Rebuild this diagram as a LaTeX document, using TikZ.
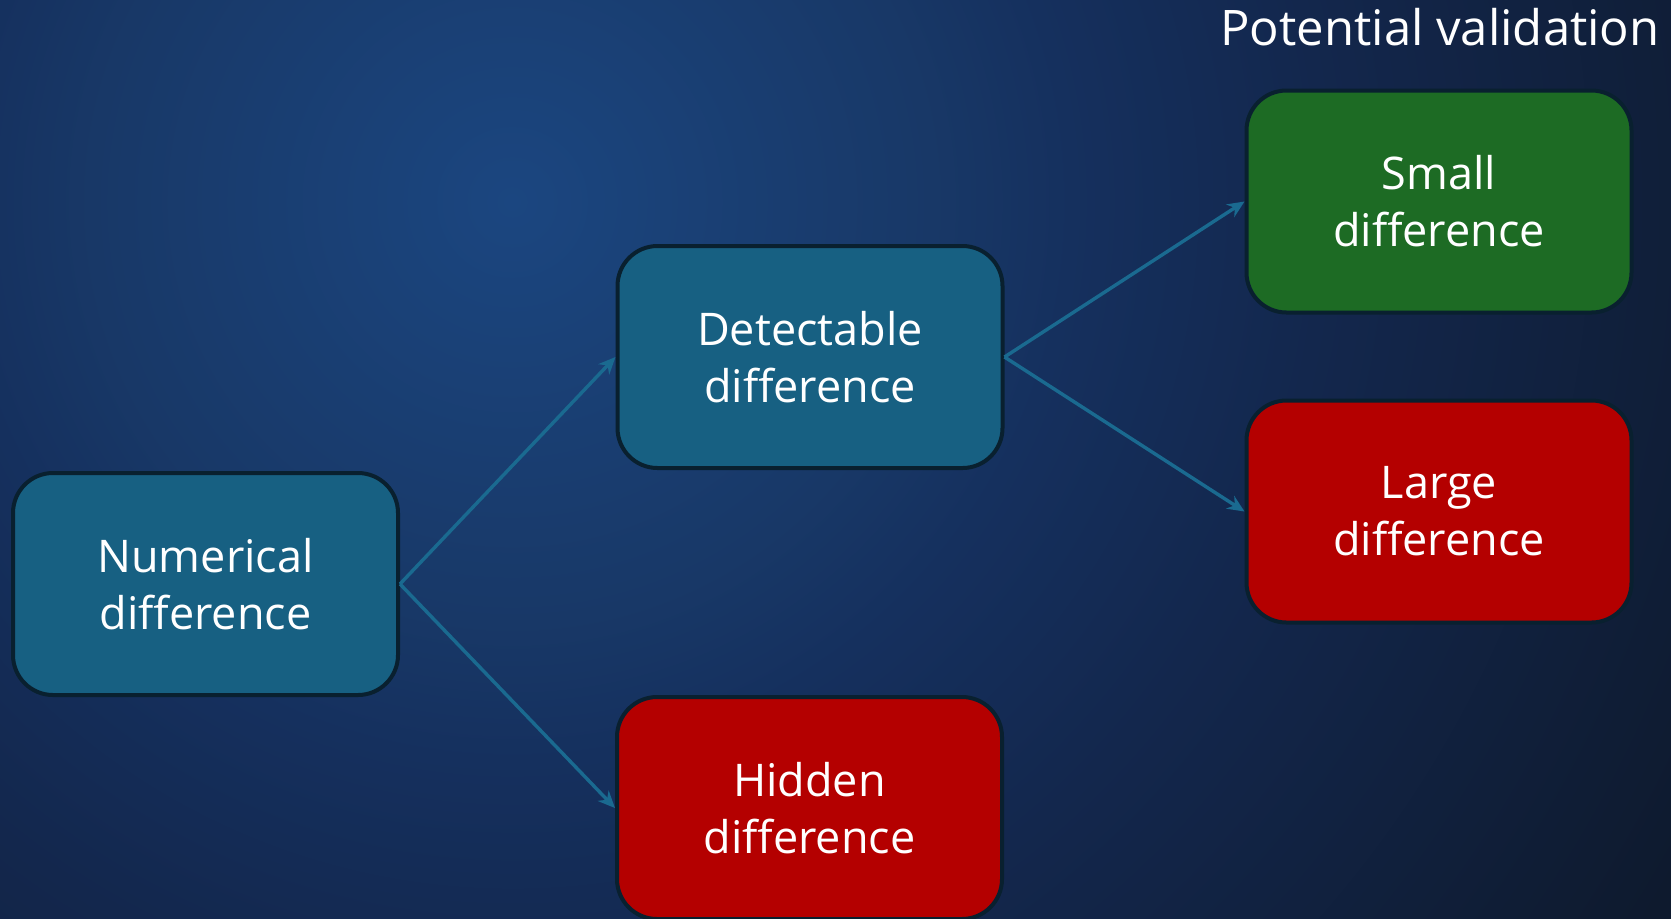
\documentclass[tikz,border=0pt]{standalone}
\usepackage{fontspec}
\setmainfont{Open Sans}
\usetikzlibrary{positioning, arrows.meta}

\definecolor{bgcore}{HTML}{1B4680}
\definecolor{bgnear}{HTML}{183867}
\definecolor{bgmid}{HTML}{15305E}
\definecolor{bgfar}{HTML}{13274D}
\definecolor{bgdark}{HTML}{0E1A2E}
\definecolor{boxteal}{HTML}{176082}
\definecolor{boxgreen}{HTML}{1D6B24}
\definecolor{boxred}{HTML}{B40000}
\definecolor{boxedge}{HTML}{09202F}
\definecolor{arrowblue}{HTML}{1A6A90}

% the middle 50bp square of a shading is fitted to the path, so 25bp = radius
\pgfdeclareradialshading{bgglow}{\pgfpoint{0bp}{0bp}}{color(0bp)=(bgcore); color(7.5bp)=(bgnear); color(10bp)=(bgmid); color(14.5bp)=(bgfar); color(24bp)=(bgdark); color(50bp)=(bgdark)}

\tikzset{
  diffbox/.style={draw=boxedge, line width=2pt, rounded corners=20pt,
    minimum width=192.5pt, minimum height=111pt, align=center, text=white,
    font=\fontsize{22.5}{28.5}\selectfont},
  flow/.style={-{Stealth[length=8.5pt,width=7.5pt]}, draw=arrowblue, line width=1.7pt}
}

\begin{document}
\begin{tikzpicture}[x=0.5pt,y=-0.5pt]
\useasboundingbox (0,0) rectangle (1671,918);
\begin{scope}
\clip (0,0) rectangle (1671,918);
\fill[bgdark] (0,0) rectangle (1671,918);
\shade[shading=bgglow] (512,202) circle[radius=1400];

\node[text=white, font=\fontsize{24.5}{30}\selectfont, anchor=base] (title) at (1440,45) {Potential validation};

\node[diffbox, fill=boxteal] (numerical) at (205.5,584) {Numerical\\difference};
\node[diffbox, fill=boxteal] (detectable) at (810,357) {Detectable\\difference};
\node[diffbox, fill=boxred] (hidden) at (809.5,808) {Hidden\\difference};
\node[diffbox, fill=boxgreen] (small) at (1439,201.5) {Small\\difference};
\node[diffbox, fill=boxred] (large) at (1439,511.5) {Large\\difference};

\draw[flow] (numerical.east) -- (detectable.west);
\draw[flow] (numerical.east) -- (hidden.west);
\draw[flow] (detectable.east) -- (small.west);
\draw[flow] (detectable.east) -- (large.west);
\end{scope}
\end{tikzpicture}
\end{document}
